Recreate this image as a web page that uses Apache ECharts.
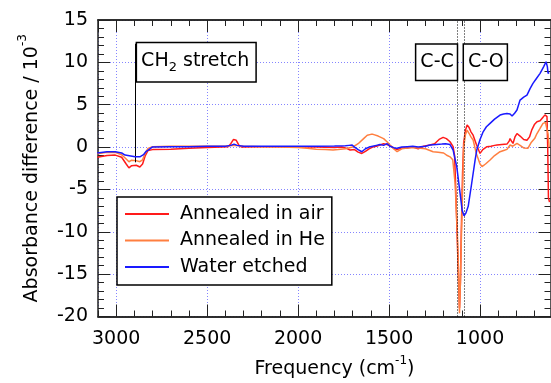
<!DOCTYPE html>
<html><head><meta charset="utf-8">
<script src="https://cdn.jsdelivr.net/npm/echarts@6/dist/echarts.min.js"></script>
<style>html,body{margin:0;padding:0;background:#fff}#c{width:551px;height:383px}</style>
</head><body><div id="c"></div>
<script>
// ---- data (frequency cm^-1, absorbance difference x10^-3) ----
const seriesNames = ['Annealed in air', 'Annealed in He', 'Water etched'];
const annealedAir = [
 [3104,-1.2],[3050,-1.0],[3005,-0.95],[2970,-1.2],[2945,-2.0],[2930,-2.45],[2915,-2.2],[2905,-2.0],
 [2890,-2.15],[2870,-2.35],[2855,-2.0],[2840,-1.0],[2825,-0.4],[2800,-0.3],[2700,-0.25],[2600,-0.15],
 [2500,-0.05],[2420,0.0],[2385,0.05],[2370,0.4],[2355,0.9],[2340,0.8],[2325,0.2],[2310,0.0],
 [2200,0.05],[2100,0.05],[2000,0.0],[1900,0.0],[1800,-0.05],[1760,0.0],[1740,-0.1],[1714,-0.35],
 [1690,-0.3],[1670,-0.6],[1650,-0.75],[1630,-0.5],[1610,-0.2],[1590,0.0],[1570,0.1],[1550,0.24],
 [1530,0.4],[1511,0.3],[1490,0.1],[1470,-0.2],[1456,-0.3],[1430,-0.1],[1400,-0.1],[1370,0.0],
 [1340,-0.2],[1310,0.1],[1275,0.24],[1250,0.4],[1225,0.9],[1203,1.15],[1185,1.0],[1165,0.63],
 [1148,0.05],[1140,-1.0],[1135,-4.0],[1125,-11.0],[1118,-16.0],[1113,-19.0],[1108,-16.0],[1103,-10.0],
 [1096,-3.0],[1090,0.5],[1080,2.0],[1071,2.6],[1060,2.3],[1050,1.8],[1038,1.4],[1020,0.3],
 [1000,-0.75],[985,-0.3],[962,0.04],[940,0.1],[920,0.2],[907,0.24],[880,0.3],[852,0.35],
 [840,0.7],[835,1.0],[827,0.7],[819,0.43],[808,1.2],[797,1.6],[780,1.3],[760,0.9],
 [742,0.8],[728,1.2],[716,2.0],[700,2.7],[687,3.0],[670,3.1],[655,3.5],[643,3.8],
 [632,3.6],[628,0.0],[624,-6.0],[618,-6.5]
];
const annealedHe = [
 [3104,-0.8],[3050,-0.6],[3005,-0.63],[2970,-0.9],[2945,-1.4],[2930,-1.73],[2915,-1.55],[2905,-1.45],
 [2890,-1.6],[2870,-1.73],[2855,-1.5],[2840,-0.7],[2825,-0.15],[2800,0.05],[2700,0.1],[2600,0.1],
 [2500,0.1],[2400,0.1],[2350,0.2],[2300,0.1],[2200,0.05],[2100,0.0],[2000,-0.05],[1950,-0.15],
 [1900,-0.25],[1850,-0.3],[1808,-0.35],[1780,-0.3],[1740,-0.2],[1700,0.0],[1670,0.4],[1640,1.0],
 [1620,1.4],[1600,1.5],[1588,1.5],[1560,1.3],[1530,1.0],[1510,0.6],[1495,0.24],[1475,-0.2],
 [1456,-0.55],[1430,-0.2],[1400,-0.1],[1370,-0.05],[1340,-0.1],[1300,-0.2],[1258,-0.55],[1230,-0.6],
 [1200,-0.7],[1180,-1.0],[1165,-1.15],[1150,-1.5],[1137,-4.3],[1125,-10.0],[1119,-14.0],[1113,-19.6],
 [1108,-16.0],[1104,-12.0],[1095,-4.2],[1090,0.0],[1080,1.5],[1071,2.0],[1060,1.6],[1050,1.2],
 [1038,0.83],[1020,-0.8],[1000,-2.0],[989,-2.3],[970,-2.0],[945,-1.53],[920,-1.0],[890,-0.55],
 [870,-0.4],[852,-0.27],[835,0.24],[820,0.1],[797,0.43],[780,0.2],[760,-0.1],[737,-0.15],
 [720,0.5],[700,1.0],[687,1.6],[670,2.2],[654,2.8],[640,2.9],[632,2.87],[626,1.5],[620,0.0]
];
const waterEtched = [
 [3104,-0.7],[3050,-0.55],[3005,-0.55],[2970,-0.7],[2951,-0.94],[2920,-1.05],[2896,-1.15],[2870,-1.15],
 [2850,-0.9],[2835,-0.5],[2824,-0.35],[2802,0.0],[2700,0.05],[2600,0.05],[2500,0.1],[2400,0.1],
 [2370,0.2],[2352,0.35],[2335,0.2],[2300,0.1],[2200,0.1],[2100,0.1],[2000,0.1],[1900,0.1],
 [1800,0.12],[1740,0.15],[1720,0.2],[1703,0.24],[1690,0.0],[1670,-0.3],[1650,-0.55],[1630,-0.2],
 [1610,0.0],[1590,0.1],[1570,0.2],[1550,0.3],[1540,0.5],[1530,0.2],[1510,0.4],[1495,0.1],
 [1470,-0.1],[1456,-0.15],[1430,0.0],[1400,0.05],[1370,0.1],[1340,0.0],[1300,0.1],[1275,0.24],
 [1240,0.3],[1210,0.35],[1190,0.4],[1165,0.3],[1148,-0.35],[1128,-2.3],[1110,-5.4],[1098,-7.5],
 [1088,-8.1],[1078,-7.8],[1065,-7.0],[1046,-4.3],[1027,-1.5],[1018,-0.35],[1000,0.9],[983,1.8],
 [965,2.4],[945,2.8],[920,3.3],[890,3.78],[870,3.9],[852,3.97],[835,3.9],[824,3.66],
 [810,4.0],[797,4.37],[780,5.55],[760,5.9],[742,6.14],[725,6.9],[709,7.52],[690,8.1],
 [670,8.7],[650,9.5],[637,10.07],[630,9.5],[626,8.7],[620,8.8]
];
const bandLines = [1128, 1088];          // C-C, C-O positions
const ch2Line = [[2896, 12.2], [2896, -1.8]];
const labelBoxes = [
  {text: '{a|CH}{s|2}{a| stretch}', coord: [2896, 10], side: 'right'},
  {text: '{a|C-C}', coord: [1128, 10], side: 'left'},
  {text: '{a|C-O}', coord: [1088, 10], side: 'right'}
];
const xMin = 500, xMax = 3100, xMajor = 500, xMinor = 100;
const yMin = -20, yMax = 15, yMajor = 5;
const colors = ['#ff1a1a', '#ff7f40', '#1a1aff'];

// ---- chart ----
const FONT = 'DejaVu Sans';
const AX = '#222';
const GRIDC = '#8585ff';
const chart = echarts.init(document.getElementById('c'), null, {renderer: 'canvas'});

function xAx(position, interval, major) {
  const main = major && position === 'bottom';
  return {
    type: 'value', position, min: xMin, max: xMax, inverse: true, interval,
    axisLine: {show: true, onZero: false, lineStyle: {color: AX, width: 1.5}},
    axisTick: {show: true, inside: true, length: major ? 12 : 6, lineStyle: {color: AX, width: 1}},
    axisLabel: {show: main, margin: 13, fontSize: 19, fontFamily: FONT, color: '#000',
                showMaxLabel: false, showMinLabel: false, formatter: v => String(v)},
    splitLine: {show: main, lineStyle: {color: GRIDC, type: [1, 2], width: 1}},
    name: main ? '{a|Frequency (cm}{s|-1}{a|)}' : '',
    nameLocation: 'middle', nameGap: 38,
    nameTextStyle: {rich: {
      a: {fontSize: 19, fontFamily: FONT, color: '#000', lineHeight: 30},
      s: {fontSize: 12, fontFamily: FONT, color: '#000', lineHeight: 12, verticalAlign: 'top'}
    }}
  };
}
function yAx(position) {
  const main = position === 'left';
  return {
    type: 'value', position, min: yMin, max: yMax, interval: yMajor,
    offset: main ? 0 : -20.5,
    axisLine: {show: true, onZero: false, lineStyle: {color: AX, width: 1.5}},
    axisTick: {show: true, inside: true, length: 12, lineStyle: {color: AX, width: 1}},
    minorTick: {show: true, splitNumber: 5, length: 6, lineStyle: {color: AX, width: 1}},
    axisLabel: {show: main, margin: 10, fontSize: 19, fontFamily: FONT, color: '#000', formatter: v => String(v)},
    splitLine: {show: main, lineStyle: {color: GRIDC, type: [1, 2], width: 1}},
    name: main ? '{a|Absorbance difference / 10}{s|-3}' : '',
    nameLocation: 'middle', nameGap: 51,
    nameTextStyle: {rich: {
      a: {fontSize: 19, fontFamily: FONT, color: '#000', lineHeight: 30},
      s: {fontSize: 12, fontFamily: FONT, color: '#000', lineHeight: 12, verticalAlign: 'top'}
    }}
  };
}

const boxLabel = (b) => ({
  coord: b.coord,
  label: {
    show: true, position: b.side, distance: b.side === 'right' && b.coord[0] > 2000 ? 2 : 0,
    formatter: b.text,
    backgroundColor: '#fff', borderColor: '#000', borderWidth: 1.5,
    padding: b.coord[0] > 2000 ? [5, 6, 7, 4] : [6, 3, 6, 4],
    rich: {
      a: {fontSize: 19, fontFamily: FONT, color: '#000', lineHeight: b.coord[0] > 2000 ? 26 : 23},
      s: {fontSize: 13, fontFamily: FONT, color: '#000', lineHeight: 13, verticalAlign: 'bottom'}
    }
  }
});

const datasets = [annealedAir, annealedHe, waterEtched];
const series = datasets.map((d, i) => ({
  name: seriesNames[i], type: 'line', data: d, xAxisIndex: 0, yAxisIndex: 0,
  symbol: 'none', showSymbol: false, smooth: false,
  lineStyle: {color: colors[i], width: 1.5}, itemStyle: {color: colors[i]},
  z: 3 + i
}));
series.push({
  name: 'marks', type: 'line', data: [], xAxisIndex: 0, yAxisIndex: 0, z: 10,
  markLine: {
    silent: true, symbol: 'none', animation: false, label: {show: false},
    data: [
      ...bandLines.map(v => ({xAxis: v, lineStyle: {color: '#000', type: [1, 2], width: 1}})),
      [{coord: ch2Line[0], lineStyle: {color: '#000', type: 'solid', width: 1}}, {coord: ch2Line[1]}]
    ]
  },
  markPoint: {
    silent: true, symbol: 'rect', symbolSize: 0, animation: false,
    itemStyle: {color: 'rgba(0,0,0,0)'},
    data: labelBoxes.map(boxLabel)
  }
});

chart.setOption({
  animation: false,
  backgroundColor: '#fff',
  grid: {left: 98, right: -20, top: 20, bottom: 66.5, containLabel: false, outerBoundsMode: 'none'},
  xAxis: [xAx('bottom', xMinor, false), xAx('bottom', xMajor, true), xAx('top', xMinor, false), xAx('top', xMajor, true)],
  yAxis: [yAx('left'), yAx('right')],
  legend: {
    data: seriesNames, orient: 'vertical', left: 117, top: 197,
    icon: 'rect', itemWidth: 44, itemHeight: 2, itemGap: 6.5,
    backgroundColor: '#fff', borderColor: '#000', borderWidth: 1.5, borderRadius: 0,
    padding: [7, 7, 8, 8],
    textStyle: {fontSize: 19, fontFamily: FONT, color: '#000', lineHeight: 20, padding: [0, 0, 0, 6]}
  },
  series
});
</script>
</body></html>
